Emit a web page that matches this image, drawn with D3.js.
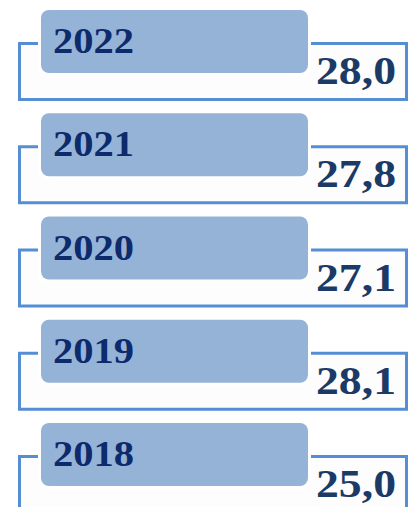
<!DOCTYPE html>
<html>
<head>
<meta charset="utf-8">
<script src="https://cdn.jsdelivr.net/npm/d3@7"></script>
<style>
  html, body { margin: 0; padding: 0; background: #fff; }
  svg { display: block; }
</style>
</head>
<body>
<div id="chart"></div>
<script>
var years = ["2022", "2021", "2020", "2019", "2018"];
var values = [28.0, 27.8, 27.1, 28.1, 25.0];

var w = 411, h = 507;

function fmt(v) {
    return d3.format(".1f")(v).replace(".", ",");
}

function draw() {
    var svg = d3.select("#chart").append("svg").attr("width", w).attr("height", h);

    // top of each bracket outline
    var y = d3.scalePoint().domain(years).range([42, 455]);

    var rows = svg.selectAll("g.row")
        .data(years.map((d, i) => ({ year: d, value: values[i] })))
        .enter()
        .append("g")
        .attr("class", "row")
        .attr("transform", d => "translate(0," + y(d.year) + ")");

    rows.append("rect")
        .attr("x", 19.5)
        .attr("y", 1.5)
        .attr("width", 387)
        .attr("height", 56)
        .style("fill", "#fdfdfd")
        .style("stroke", "#558ed5")
        .style("stroke-width", 3);

    rows.append("rect")
        .attr("x", 41)
        .attr("y", -32)
        .attr("width", 267)
        .attr("height", 63)
        .attr("rx", 8)
        .style("fill", "#95b3d7")
        .style("stroke", "#fff")
        .style("stroke-width", 6)
        .style("paint-order", "stroke");

    rows.append("text")
        .attr("x", 53)
        .attr("y", 11)
        .attr("textLength", 81)
        .attr("lengthAdjust", "spacingAndGlyphs")
        .style("font-family", "'Liberation Serif', 'Times New Roman', serif")
        .style("font-weight", "bold")
        .style("font-size", "36px")
        .style("fill", "#0c2a6c")
        .text(d => d.year);

    rows.append("text")
        .attr("x", 316)
        .attr("y", 42)
        .attr("textLength", 80)
        .attr("lengthAdjust", "spacingAndGlyphs")
        .style("font-family", "'Liberation Serif', 'Times New Roman', serif")
        .style("font-weight", "bold")
        .style("font-size", "39px")
        .style("fill", "#1b3a66")
        .text(d => fmt(d.value));
}

document.addEventListener('DOMContentLoaded', () => {
    draw();
});
</script>
</body>
</html>
